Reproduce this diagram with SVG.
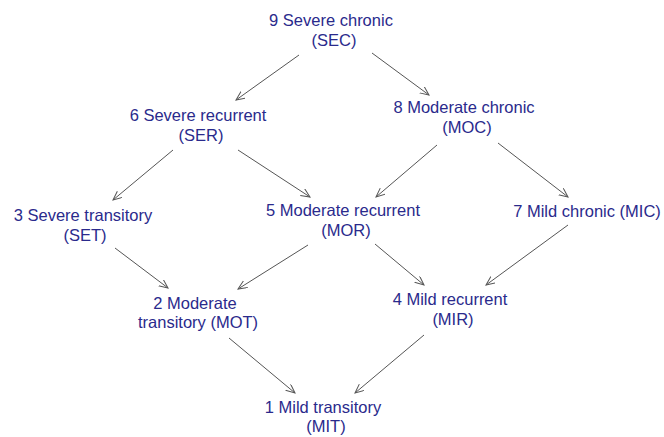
<svg xmlns="http://www.w3.org/2000/svg" width="664" height="437" viewBox="0 0 664 437">
<style>
text{font-family:"Liberation Sans",Arial,sans-serif;font-size:16.5px;fill:#2a2a8c;text-anchor:middle}
.e{stroke:#555;stroke-width:1;fill:none;marker-end:url(#ah)}
</style>
<defs>
<marker id="ah" markerUnits="userSpaceOnUse" markerWidth="12" markerHeight="10" refX="9" refY="4" orient="auto">
<path d="M0,0 L9,4 L0,8" fill="none" stroke="#555" stroke-width="1"/>
</marker>
</defs>
<rect width="664" height="437" fill="#fff"/>
<g id="connectors">
<line class="e" x1="299" y1="55" x2="236" y2="100"/>
<line class="e" x1="372" y1="53" x2="429" y2="95"/>
<line class="e" x1="173" y1="150" x2="113" y2="200"/>
<line class="e" x1="238" y1="150" x2="310" y2="197"/>
<line class="e" x1="437" y1="145" x2="376" y2="197"/>
<line class="e" x1="498" y1="143" x2="568" y2="197"/>
<line class="e" x1="115" y1="248" x2="168" y2="288"/>
<line class="e" x1="308" y1="245" x2="238" y2="289"/>
<line class="e" x1="375" y1="244" x2="424" y2="285"/>
<line class="e" x1="568" y1="225" x2="486" y2="285"/>
<line class="e" x1="229" y1="338" x2="295" y2="393"/>
<line class="e" x1="424" y1="335" x2="355" y2="393"/>
</g>
<g id="SEC"><text x="331" y="26">9 Severe chronic</text><text x="334" y="46">(SEC)</text></g>
<g id="SER"><text x="198" y="121">6 Severe recurrent</text><text x="201" y="141">(SER)</text></g>
<g id="MOC"><text x="464" y="113">8 Moderate chronic</text><text x="467" y="133">(MOC)</text></g>
<g id="SET"><text x="83" y="221">3 Severe transitory</text><text x="85" y="241">(SET)</text></g>
<g id="MOR"><text x="343" y="216">5 Moderate recurrent</text><text x="346" y="236">(MOR)</text></g>
<g id="MIC"><text x="587" y="217">7 Mild chronic (MIC)</text></g>
<g id="MOT"><text x="195" y="309">2 Moderate</text><text x="198" y="328">transitory (MOT)</text></g>
<g id="MIR"><text x="450" y="305">4 Mild recurrent</text><text x="453" y="325">(MIR)</text></g>
<g id="MIT"><text x="323" y="413">1 Mild transitory</text><text x="326" y="432">(MIT)</text></g>
</svg>
